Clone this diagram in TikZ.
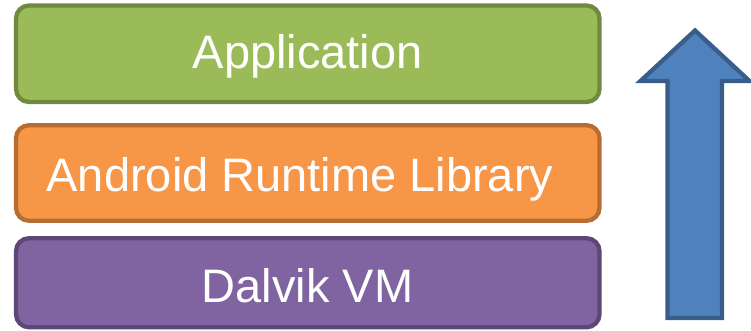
\documentclass[tikz,border=0pt]{standalone}
\usepackage{fontspec}
\setmainfont{Liberation Sans}
\definecolor{gfill}{HTML}{9BBB59}
\definecolor{gline}{HTML}{71893F}
\definecolor{ofill}{HTML}{F79646}
\definecolor{oline}{HTML}{B66D31}
\definecolor{pfill}{HTML}{8064A2}
\definecolor{pline}{HTML}{5C4776}
\definecolor{bfill}{HTML}{4F81BD}
\definecolor{bline}{HTML}{385D8A}
\tikzset{
  layer/.style={line width=4.3pt, rounded corners=13pt},
  lbl/.style={text=white, font=\fontsize{47}{56}\selectfont, anchor=base, inner sep=0pt}
}
\begin{document}
\begin{tikzpicture}[x=1pt,y=-1pt]
\useasboundingbox (0,0) rectangle (751,330);
\clip (0,0) rectangle (751,330);
\draw[layer, fill=gfill, draw=gline] (16,5.5) rectangle (599.5,102);
\draw[layer, fill=ofill, draw=oline] (16,125.2) rectangle (599.5,220.8);
\draw[layer, fill=pfill, draw=pline] (16,238.2) rectangle (599.5,327.3);
\node[lbl] (app) at (307.7,68) {Application};
\node[lbl] (art) at (300,191) {Android Runtime Library};
\node[lbl] (dvm) at (307.5,302) {Dalvik VM};
\draw[line width=4.3pt, fill=bfill, draw=bline, line join=miter]
  (695,30.5) -- (749.5,81) -- (722,81) -- (722,318) -- (667.5,318) -- (667.5,81) -- (640.5,81) -- cycle;
\end{tikzpicture}
\end{document}
